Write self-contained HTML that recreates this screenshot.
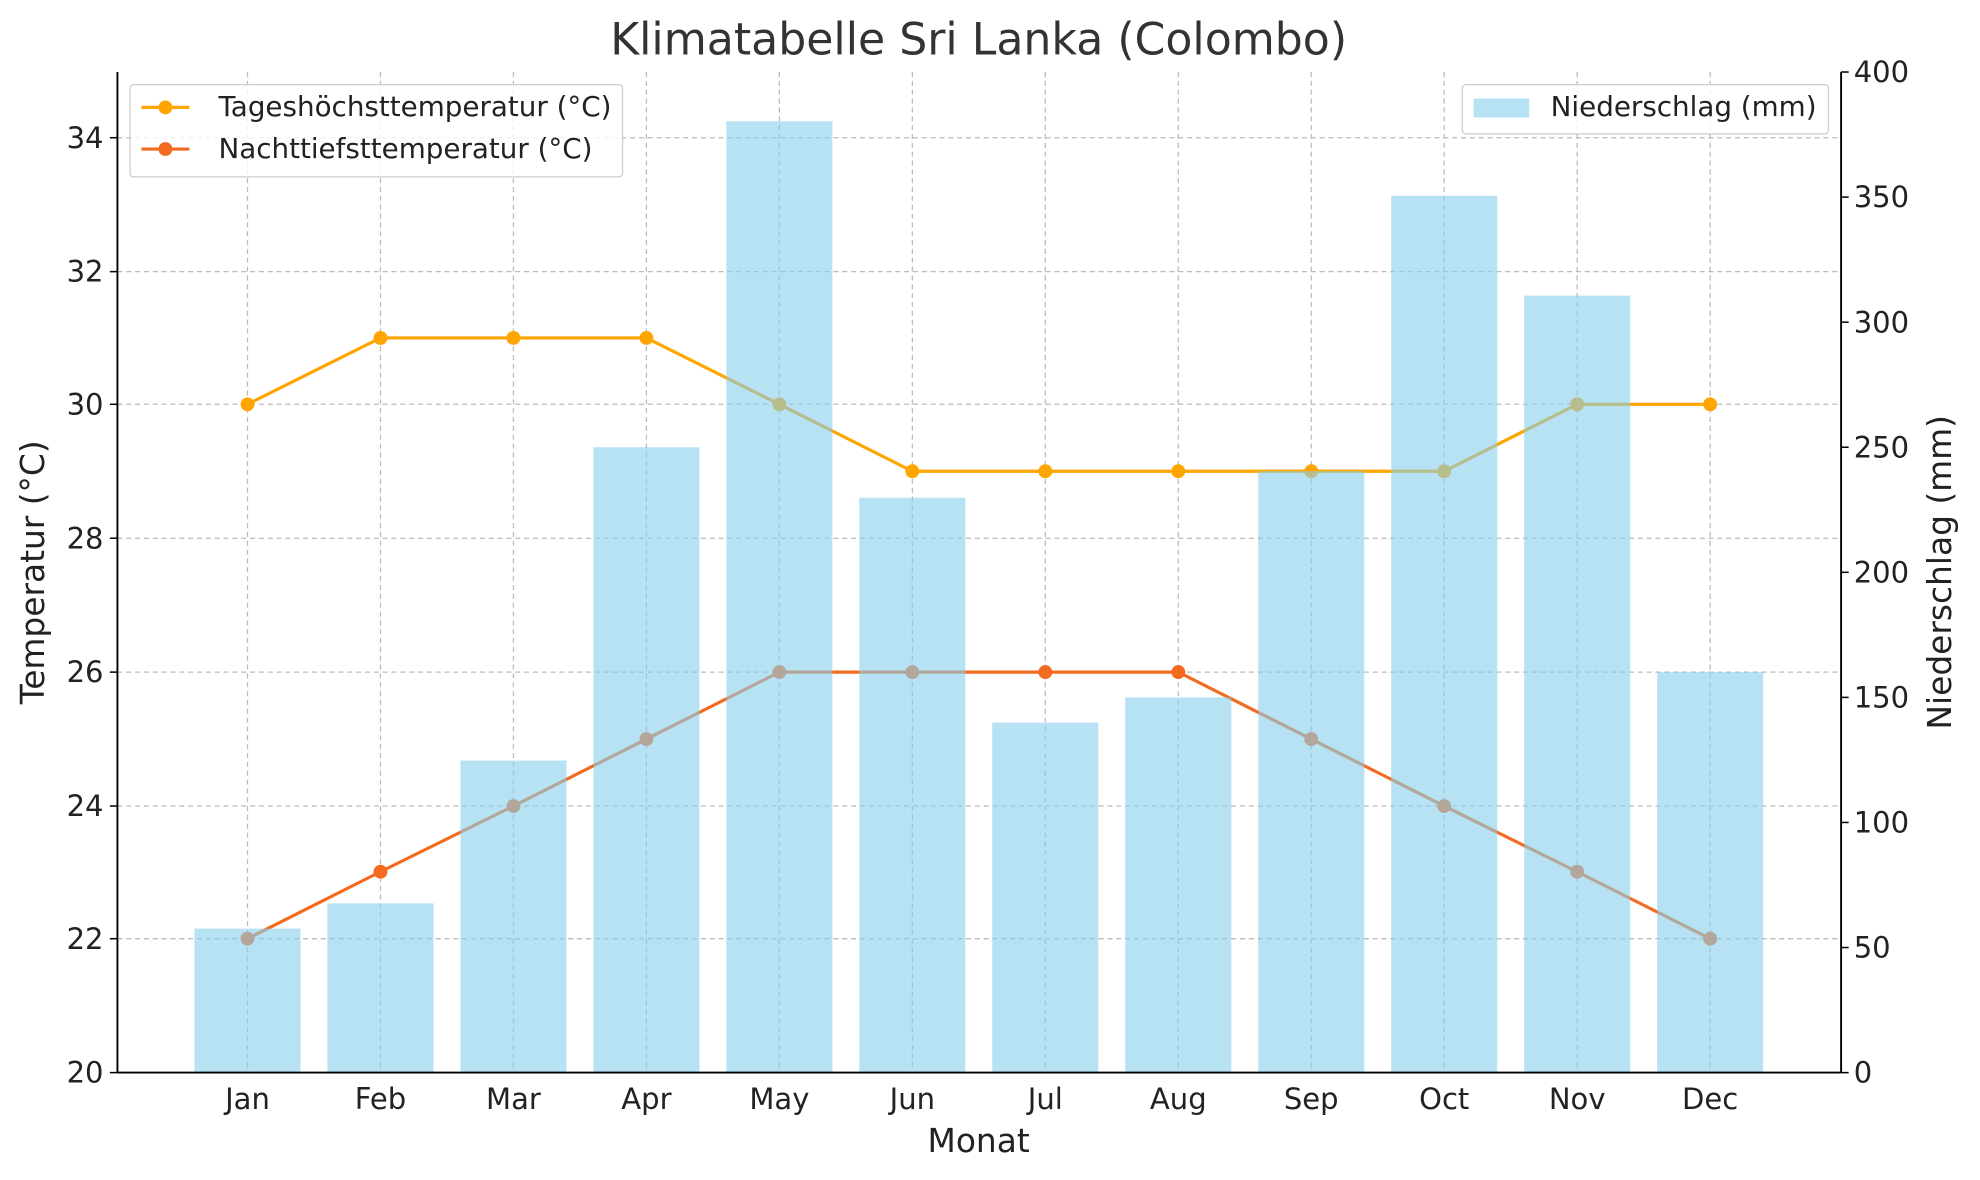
<!DOCTYPE html>
<html><head><style>body{margin:0;background:#fff}svg{display:block}</style></head>
<body>
<svg width="1980" height="1180" viewBox="0 0 1568 934" preserveAspectRatio="none" xmlns="http://www.w3.org/2000/svg" font-family="'DejaVu Sans', 'Liberation Sans', sans-serif">
<rect width="1568" height="934" fill="#fff"/>
<g stroke="#bbb" stroke-width="1" stroke-dasharray="4,3">
<line x1="93" x2="1458" y1="743" y2="743"/><line x1="93" x2="1458" y1="638" y2="638"/><line x1="93" x2="1458" y1="532" y2="532"/><line x1="93" x2="1458" y1="426" y2="426"/><line x1="93" x2="1458" y1="320" y2="320"/><line x1="93" x2="1458" y1="215" y2="215"/><line x1="93" x2="1458" y1="109" y2="109"/>
<line x1="196" x2="196" y1="57" y2="849"/><line x1="301.3" x2="301.3" y1="57" y2="849"/><line x1="406.6" x2="406.6" y1="57" y2="849"/><line x1="511.9" x2="511.9" y1="57" y2="849"/><line x1="617.2" x2="617.2" y1="57" y2="849"/><line x1="722.5" x2="722.5" y1="57" y2="849"/><line x1="827.8" x2="827.8" y1="57" y2="849"/><line x1="933.1" x2="933.1" y1="57" y2="849"/><line x1="1038.4" x2="1038.4" y1="57" y2="849"/><line x1="1143.7" x2="1143.7" y1="57" y2="849"/><line x1="1249" x2="1249" y1="57" y2="849"/><line x1="1354.3" x2="1354.3" y1="57" y2="849"/>
</g>
<polyline fill="none" stroke="#FFA500" stroke-width="2.5" points="196,320 301.3,267.5 406.6,267.5 511.9,267.5 617.2,320 722.5,373 827.8,373 933.1,373 1038.4,373 1143.7,373 1249,320 1354.3,320"/>
<g fill="#FFA500"><circle cx="196" cy="320" r="5.5"/><circle cx="301.3" cy="267.5" r="5.5"/><circle cx="406.6" cy="267.5" r="5.5"/><circle cx="511.9" cy="267.5" r="5.5"/><circle cx="617.2" cy="320" r="5.5"/><circle cx="722.5" cy="373" r="5.5"/><circle cx="827.8" cy="373" r="5.5"/><circle cx="933.1" cy="373" r="5.5"/><circle cx="1038.4" cy="373" r="5.5"/><circle cx="1143.7" cy="373" r="5.5"/><circle cx="1249" cy="320" r="5.5"/><circle cx="1354.3" cy="320" r="5.5"/></g>
<polyline fill="none" stroke="#F26B21" stroke-width="2.5" points="196,743 301.3,690 406.6,638 511.9,585 617.2,532 722.5,532 827.8,532 933.1,532 1038.4,585 1143.7,638 1249,690 1354.3,743"/>
<g fill="#F26B21"><circle cx="196" cy="743" r="5.5"/><circle cx="301.3" cy="690" r="5.5"/><circle cx="406.6" cy="638" r="5.5"/><circle cx="511.9" cy="585" r="5.5"/><circle cx="617.2" cy="532" r="5.5"/><circle cx="722.5" cy="532" r="5.5"/><circle cx="827.8" cy="532" r="5.5"/><circle cx="933.1" cy="532" r="5.5"/><circle cx="1038.4" cy="585" r="5.5"/><circle cx="1143.7" cy="638" r="5.5"/><circle cx="1249" cy="690" r="5.5"/><circle cx="1354.3" cy="743" r="5.5"/></g>
<g fill="#87CEEB" fill-opacity="0.6">
<rect x="154" y="735" width="84" height="114"/><rect x="259.3" y="715" width="84" height="134"/><rect x="364.6" y="602" width="84" height="247"/><rect x="469.9" y="354" width="84" height="495"/><rect x="575.2" y="96" width="84" height="753"/><rect x="680.5" y="394" width="84" height="455"/><rect x="785.8" y="572" width="84" height="277"/><rect x="891.1" y="552" width="84" height="297"/><rect x="996.4" y="373" width="84" height="476"/><rect x="1101.7" y="155" width="84" height="694"/><rect x="1207" y="234" width="84" height="615"/><rect x="1312.3" y="532" width="84" height="317"/>
</g>
<g stroke="#000" stroke-width="1.5"><line x1="93" x2="93" y1="57" y2="849"/><line x1="1458" x2="1458" y1="57" y2="849"/><line x1="93" x2="1458" y1="849" y2="849"/></g>
<g stroke="#000" stroke-width="1.2">
<line x1="87" x2="93" y1="849" y2="849"/><line x1="87" x2="93" y1="743" y2="743"/><line x1="87" x2="93" y1="638" y2="638"/><line x1="87" x2="93" y1="532" y2="532"/><line x1="87" x2="93" y1="426" y2="426"/><line x1="87" x2="93" y1="320" y2="320"/><line x1="87" x2="93" y1="215" y2="215"/><line x1="87" x2="93" y1="109" y2="109"/>
<line x1="1458" x2="1464" y1="849" y2="849"/><line x1="1458" x2="1464" y1="750" y2="750"/><line x1="1458" x2="1464" y1="651" y2="651"/><line x1="1458" x2="1464" y1="552" y2="552"/><line x1="1458" x2="1464" y1="453" y2="453"/><line x1="1458" x2="1464" y1="354" y2="354"/><line x1="1458" x2="1464" y1="255" y2="255"/><line x1="1458" x2="1464" y1="156" y2="156"/><line x1="1458" x2="1464" y1="57" y2="57"/>
</g>
<g font-size="23" fill="#222" text-anchor="end">
<text x="82" y="857">20</text><text x="82" y="751">22</text><text x="82" y="646">24</text><text x="82" y="540">26</text><text x="82" y="434">28</text><text x="82" y="328">30</text><text x="82" y="223">32</text><text x="82" y="117">34</text>
</g>
<g font-size="23" fill="#222">
<text x="1468" y="857">0</text><text x="1468" y="758">50</text><text x="1468" y="659">100</text><text x="1468" y="560">150</text><text x="1468" y="461">200</text><text x="1468" y="362">250</text><text x="1468" y="263">300</text><text x="1468" y="164">350</text><text x="1468" y="65">400</text>
</g>
<g font-size="23" fill="#222" text-anchor="middle">
<text x="196" y="878">Jan</text><text x="301.3" y="878">Feb</text><text x="406.6" y="878">Mar</text><text x="511.9" y="878">Apr</text><text x="617.2" y="878">May</text><text x="722.5" y="878">Jun</text><text x="827.8" y="878">Jul</text><text x="933.1" y="878">Aug</text><text x="1038.4" y="878">Sep</text><text x="1143.7" y="878">Oct</text><text x="1249" y="878">Nov</text><text x="1354.3" y="878">Dec</text>
<text x="775" y="912" font-size="26">Monat</text>
<text x="775" y="43" font-size="35" fill="#333">Klimatabelle Sri Lanka (Colombo)</text>
<text transform="translate(35,453) rotate(-90)" font-size="26">Temperatur (°C)</text>
<text transform="translate(1545,453) rotate(-90)" font-size="26">Niederschlag (mm)</text>
</g>
<rect x="103" y="67" width="390" height="73" rx="3" fill="#fff" fill-opacity="0.8" stroke="#ccc"/>
<line x1="112" x2="150" y1="85" y2="85" stroke="#FFA500" stroke-width="2.5"/><circle cx="131" cy="85" r="5.5" fill="#FFA500"/>
<line x1="112" x2="150" y1="118" y2="118" stroke="#F26B21" stroke-width="2.5"/><circle cx="131" cy="118" r="5.5" fill="#F26B21"/>
<g font-size="22" fill="#222"><text x="173" y="92">Tageshöchsttemperatur (°C)</text><text x="173" y="125">Nachttiefsttemperatur (°C)</text></g>
<rect x="1158" y="67" width="290" height="39" rx="3" fill="#fff" fill-opacity="0.8" stroke="#ccc"/>
<rect x="1167" y="78" width="44" height="15" fill="#87CEEB" fill-opacity="0.6"/>
<text x="1228" y="92" font-size="22" fill="#222">Niederschlag (mm)</text>
</svg>
</body></html>
